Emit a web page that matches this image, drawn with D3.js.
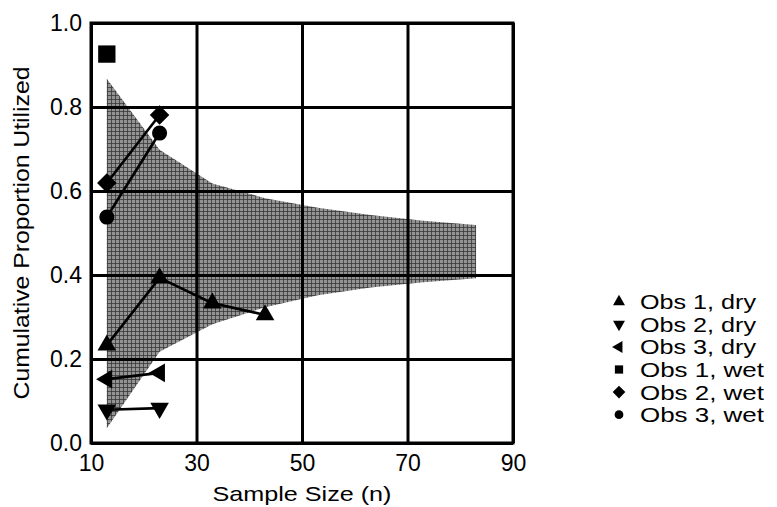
<!DOCTYPE html>
<html>
<head>
<meta charset="utf-8">
<script src="https://cdn.jsdelivr.net/npm/d3@7"></script>
<style>
  body { margin: 0; background: #fff; }
  svg text { font-family: "Liberation Sans", Arial, sans-serif; fill: #000; }
</style>
</head>
<body>
<svg id="chart" width="777" height="507"></svg>
<script>
// band (range of expected proportions)
var bandN = [13, 23, 33, 43, 53, 63, 73, 83];
var bandUpper = [0.867, 0.698, 0.618, 0.583, 0.560, 0.543, 0.529, 0.519];
var bandLower = [0.035, 0.217, 0.283, 0.323, 0.352, 0.370, 0.383, 0.392];

// observed series
var obs1Dry = [[13, 0.233], [23, 0.393], [33, 0.333], [43, 0.305]];
var obs2Dry = [[13, 0.079], [23, 0.083]];
var obs3Dry = [[13, 0.152], [23, 0.167]];
var obs1Wet = [[13, 0.926]];
var obs2Wet = [[13, 0.619], [23, 0.781]];
var obs3Wet = [[13, 0.538], [23, 0.738]];

var xTicks = [10, 30, 50, 70, 90];
var yTicks = [0, 0.2, 0.4, 0.6, 0.8, 1.0];
var legendLabels = ["Obs 1, dry", "Obs 2, dry", "Obs 3, dry", "Obs 1, wet", "Obs 2, wet", "Obs 3, wet"];

var margin = { left: 91, top: 23 };
var width = 422, height = 420;

var svg = d3.select("#chart");

// crosshatched gray fill like the printed figure
var defs = svg.append("defs");
var pat = defs.append("pattern")
    .attr("id", "hatch")
    .attr("patternUnits", "userSpaceOnUse")
    .attr("width", 4)
    .attr("height", 4);
pat.append("rect").attr("width", 4).attr("height", 4).attr("fill", "#939393");
pat.append("path")
    .attr("d", "M0,0.5H4M0.5,0V4")
    .attr("stroke", "#333")
    .attr("stroke-width", 1)
    .attr("stroke-opacity", 0.75);

var g = svg.append("g").attr("transform", "translate(" + margin.left + "," + margin.top + ")");

var x = d3.scaleLinear().domain([10, 90]).range([0, width]);
var y = d3.scaleLinear().domain([0, 1]).range([height, 0]);

// band
var area = d3.area()
    .x(function (d, i) { return x(bandN[i]); })
    .y0(function (d, i) { return y(bandLower[i]); })
    .y1(function (d, i) { return y(bandUpper[i]); });
g.append("path")
    .datum(bandN)
    .attr("d", area)
    .attr("fill", "url(#hatch)");

// grid + tick labels
var xAxis = g.append("g")
    .attr("transform", "translate(0," + height + ")")
    .call(d3.axisBottom(x).tickValues(xTicks).tickFormat(d3.format("d"))
        .tickSizeInner(-height).tickSizeOuter(0).tickPadding(12));
var yAxis = g.append("g")
    .call(d3.axisLeft(y).tickValues(yTicks).tickFormat(d3.format(".1f"))
        .tickSizeInner(-width).tickSizeOuter(0).tickPadding(9));

[xAxis, yAxis].forEach(function (ax) {
    ax.select(".domain").remove();
    ax.selectAll("line").attr("stroke", "#000").attr("stroke-width", 3);
    ax.selectAll("text")
        .style("font-family", "'Liberation Sans', Arial, sans-serif")
        .style("font-size", "23px")
        .attr("fill", "#000");
});

g.append("rect")
    .attr("width", width)
    .attr("height", height)
    .attr("fill", "none")
    .attr("stroke", "#000")
    .attr("stroke-width", 3);

// series
var series = [
    { data: obs1Dry, type: d3.symbolTriangle, size: 150, rot: 0, ls: 62 },
    { data: obs2Dry, type: d3.symbolTriangle, size: 150, rot: 180, ls: 62 },
    { data: obs3Dry, type: d3.symbolTriangle, size: 150, rot: -90, ls: 62 },
    { data: obs1Wet, type: d3.symbolSquare, size: 300, rot: 0, ls: 68 },
    { data: obs2Wet, type: d3.symbolSquare, size: 190, rot: 45, ls: 80 },
    { data: obs3Wet, type: d3.symbolCircle, size: 180, rot: 0, ls: 60 }
];

var line = d3.line()
    .x(function (d) { return x(d[0]); })
    .y(function (d) { return y(d[1]); });

series.forEach(function (s) {
    if (s.data.length > 1) {
        g.append("path")
            .datum(s.data)
            .attr("d", line)
            .attr("fill", "none")
            .attr("stroke", "#000")
            .attr("stroke-width", 2.6);
    }
});

series.forEach(function (s) {
    g.selectAll(null)
        .data(s.data)
        .enter().append("path")
        .attr("d", d3.symbol().type(s.type).size(s.size))
        .attr("transform", function (d) {
            return "translate(" + x(d[0]) + "," + y(d[1]) + ") rotate(" + s.rot + ")";
        })
        .attr("fill", "#000");
});

// legend
var legend = svg.append("g").attr("transform", "translate(619,301.7)");
var item = legend.selectAll("g")
    .data(series)
    .enter().append("g")
    .attr("transform", function (d, i) { return "translate(0," + (i * 22.6) + ")"; });
item.append("path")
    .attr("d", function (d) { return d3.symbol().type(d.type).size(d.ls)(); })
    .attr("transform", function (d) { return "rotate(" + d.rot + ")"; })
    .attr("fill", "#000");
item.append("text")
    .attr("x", 21)
    .attr("dy", "0.36em")
    .style("font-size", "21px")
    .attr("textLength", function (d, i) { return i < 3 ? 116 : 124; })
    .attr("lengthAdjust", "spacingAndGlyphs")
    .text(function (d, i) { return legendLabels[i]; });

// axis titles
svg.append("text")
    .attr("x", margin.left + width / 2)
    .attr("y", 501)
    .attr("text-anchor", "middle")
    .style("font-size", "21px")
    .attr("textLength", 179)
    .attr("lengthAdjust", "spacingAndGlyphs")
    .text("Sample Size (n)");

svg.append("text")
    .attr("transform", "translate(29," + (margin.top + height / 2) + ") rotate(-90)")
    .attr("text-anchor", "middle")
    .style("font-size", "22px")
    .attr("textLength", 333)
    .attr("lengthAdjust", "spacingAndGlyphs")
    .text("Cumulative Proportion Utilized");
</script>
</body>
</html>
